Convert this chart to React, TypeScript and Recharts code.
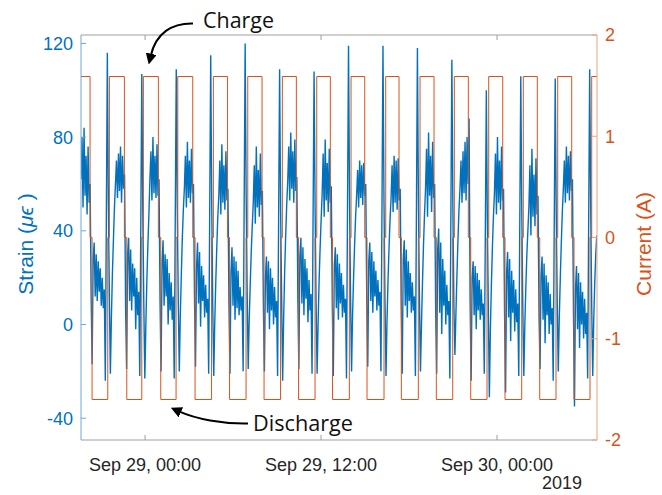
import React from 'react';
import { LineChart, Line, XAxis, YAxis } from 'recharts';

// time is in hours from Sep 29 2019, 00:00
const strainStart = -4.369;
const strainStep = 0.0691;

// strain (microstrain), one value per sample, one row per charge/discharge cycle
const strain: number[] = [
    62, 80, 50, 84, 55, 72, 47, 76, 52, 60, 12, -17, 28, 35, 12, 30, 10, 27, 14, 24, 8, 20, 7, 15, -24, 45, 116, 52,
    12, -21, 3, 22, 36, 50, 60, 70, 54, 73, 57, 76, 52, 72, 58, 64, 8, -19, 30, 37, 10, 32, 6, 26, 12, 24, -2, 20, 4, 14, -22, 42, 107, 48,
    8, -23, 0, 19, 34, 47, 62, 74, 53, 80, 56, 72, 54, 77, 55, 62, 10, -20, 26, 36, 8, 30, 12, 28, 0, 22, 6, 18, 2, 12, -23, 44, 109, 50,
    10, -20, 4, 21, 37, 49, 58, 72, 50, 78, 54, 70, 52, 75, 56, 60, 12, -18, 24, 35, 9, 31, -1, 25, 10, 21, 3, 17, 5, 11, -21, 47, 115, 52,
    9, -22, 1, 18, 33, 46, 55, 70, 47, 77, 52, 68, 49, 74, 53, 58, 9, -21, 22, 33, 8, 29, 2, 27, 7, 23, 4, 16, 6, 12, -20, 50, 120, 55,
    13, -19, 2, 17, 31, 42, 52, 68, 43, 76, 50, 66, 46, 73, 51, 57, 7, -20, 20, 29, 5, 27, -2, 24, 6, 20, 0, 16, 3, 10, -22, 43, 109, 49,
    11, -24, 3, 23, 38, 51, 61, 76, 53, 82, 58, 74, 52, 79, 57, 63, 11, -19, 29, 37, 9, 33, 4, 28, 11, 24, 1, 19, 6, 13, -21, 44, 108, 51,
    9, -21, 1, 19, 33, 45, 56, 73, 46, 79, 53, 69, 48, 75, 52, 59, 8, -22, 25, 33, 7, 30, 2, 26, 9, 22, 3, 17, 5, 11, -23, 49, 119, 54,
    12, -20, 4, 20, 34, 46, 55, 66, 50, 70, 54, 68, 51, 69, 55, 60, 10, -18, 27, 35, 10, 31, 5, 27, 12, 23, 6, 19, 8, 14, -20, 48, 119, 53,
    10, -22, 2, 19, 33, 45, 54, 68, 48, 72, 52, 70, 49, 71, 53, 58, 9, -21, 28, 36, 8, 32, 3, 27, 10, 22, 5, 18, 6, 12, -22, 47, 118, 52,
    11, -20, 0, 18, 34, 47, 58, 75, 46, 82, 55, 72, 48, 78, 54, 60, 6, -21, 32, 41, 5, 35, -4, 28, 8, 23, 0, 17, 4, 10, -23, 45, 113, 50,
    8, -13, 5, 21, 36, 49, 58, 70, 52, 74, 56, 78, 53, 80, 60, 88, 10, -24, 20, 27, 4, 25, -2, 22, 6, 19, 2, 15, 4, 9, -21, 38, 100, 45,
    6, -31, -2, 17, 33, 46, 56, 73, 47, 80, 52, 70, 49, 76, 53, 58, 5, -29, 22, 31, 3, 28, -7, 23, 5, 19, -3, 15, 1, 9, -22, 42, 106, 48,
    7, -22, 0, 16, 30, 40, 50, 68, 38, 75, 46, 64, 42, 71, 47, 55, 4, -19, 21, 29, 2, 26, -8, 21, 4, 18, -4, 13, 0, 7, -24, 41, 105, 47,
    9, -20, 3, 20, 35, 48, 58, 70, 52, 76, 56, 72, 53, 74, 57, 62, 5, -35, 15, 25, -2, 22, -10, 18, 0, 14, -6, 11, -4, 5, -23, 44, 109, 50,
    8, -22, 2, 18, 30, 38,
];

// current steps (hours)
const chargeStart = [-4.369, -2.434, -0.116, 2.23, 4.657, 7.002, 9.361, 11.707, 14.045, 16.411, 18.75, 21.089, 23.434, 25.793, 28.139, 30.457];
const chargeEnd = [-3.75, -1.411, 0.907, 3.252, 5.625, 7.977, 10.316, 12.634, 14.98, 17.318, 19.705, 22.043, 24.389, 26.748, 29.093];
const dischargeStart = [-3.614, -1.248, 1.07, 3.409, 5.761, 8.114, 10.466, 12.784, 15.136, 17.475, 19.861, 22.207, 24.545, 26.911, 29.25];
const dischargeEnd = [-2.543, -0.225, 2.114, 4.534, 6.886, 9.239, 11.591, 13.93, 16.295, 18.634, 20.98, 23.318, 25.684, 28.023, 30.341];
const chargeCurrent = 1.59;
const dischargeCurrent = -1.6;
const endTime = 30.818;

const timeTicks = [0, 12, 24];
const timeLabels = ['Sep 29, 00:00', 'Sep 29, 12:00', 'Sep 30, 00:00'];
const strainTicks = [-40, 0, 40, 80, 120];
const currentTicks = [-2, -1, 0, 1, 2];

const strainData = strain.map((v, i) => ({ t: strainStart + i * strainStep, strain: v }));

const currentData: { t: number; current: number }[] = [];
chargeStart.forEach((cs, k) => {
    currentData.push({ t: cs, current: chargeCurrent });
    if (k < chargeEnd.length) {
        currentData.push({ t: chargeEnd[k], current: 0 });
        currentData.push({ t: dischargeStart[k], current: dischargeCurrent });
        currentData.push({ t: dischargeEnd[k], current: 0 });
    }
});
currentData.push({ t: endTime, current: chargeCurrent });

const BLUE = '#0072BD';
const ORANGE = '#D95319';
const tickFont = { fontFamily: 'Liberation Sans, Arial, sans-serif', fontSize: 18 };

const formatTime = (v: number) => timeLabels[timeTicks.indexOf(v)] ?? '';

export default function App() {
    return (
        <div style={{ position: 'absolute', left: 0, top: 0, width: 662, height: 495, background: '#fff' }}>
            <LineChart width={662} height={495} margin={{ top: 0, right: 0, bottom: 0, left: 0 }}>
                <XAxis
                    xAxisId="bottom"
                    type="number"
                    dataKey="t"
                    domain={[strainStart, endTime]}
                    allowDataOverflow
                    ticks={timeTicks}
                    interval={0}
                    tickFormatter={formatTime}
                    height={55}
                    stroke="#a0a0a0"
                    tickSize={-5}
                    tickMargin={23}
                    tick={{ ...tickFont, fill: '#262626' }}
                />
                <XAxis
                    xAxisId="top"
                    orientation="top"
                    type="number"
                    dataKey="t"
                    domain={[strainStart, endTime]}
                    allowDataOverflow
                    ticks={timeTicks}
                    interval={0}
                    tickFormatter={() => ''}
                    height={35}
                    stroke="#a0a0a0"
                    tickSize={-5}
                />
                <YAxis
                    yAxisId="left"
                    type="number"
                    domain={[-49.3, 123.6]}
                    allowDataOverflow
                    ticks={strainTicks}
                    interval={0}
                    width={81}
                    stroke="#6fa8d6"
                    tickSize={-5}
                    tickMargin={13}
                    tick={{ ...tickFont, fill: BLUE }}
                />
                <YAxis
                    yAxisId="right"
                    orientation="right"
                    type="number"
                    domain={[-2, 2]}
                    allowDataOverflow
                    ticks={currentTicks}
                    interval={0}
                    width={65}
                    stroke="#eea07c"
                    tickSize={-5}
                    tickMargin={13}
                    tick={{ ...tickFont, fill: ORANGE }}
                />
                <Line
                    xAxisId="bottom"
                    yAxisId="left"
                    data={strainData}
                    dataKey="strain"
                    type="linear"
                    stroke={BLUE}
                    strokeWidth={1.4}
                    dot={false}
                    activeDot={false}
                    isAnimationActive={false}
                />
                <Line
                    xAxisId="bottom"
                    yAxisId="right"
                    data={currentData}
                    dataKey="current"
                    type="stepAfter"
                    stroke={ORANGE}
                    strokeWidth={1}
                    dot={false}
                    activeDot={false}
                    isAnimationActive={false}
                />
            </LineChart>
            <svg width={662} height={495} style={{ position: 'absolute', left: 0, top: 0, pointerEvents: 'none' }}>
                <defs>
                    <marker id="head" viewBox="0 0 10 10" refX="2" refY="5" markerWidth="11" markerHeight="11" markerUnits="userSpaceOnUse" orient="auto">
                        <path d="M0,0 L10,5 L0,10 z" fill="#000" />
                    </marker>
                </defs>
                <text
                    transform="translate(33,244) rotate(-90)"
                    textAnchor="middle"
                    fill={BLUE}
                    style={{ fontFamily: 'Liberation Sans, Arial, sans-serif', fontSize: 21 }}
                >
                    Strain (<tspan fontStyle="italic">μϵ</tspan> )
                </text>
                <text
                    transform="translate(651,244) rotate(-90)"
                    textAnchor="middle"
                    fill={ORANGE}
                    style={{ fontFamily: 'Liberation Sans, Arial, sans-serif', fontSize: 21 }}
                >
                    Current (A)
                </text>
                <text x={582} y={489} textAnchor="end" fill="#262626" style={tickFont}>2019</text>

                <text x={203} y={28} textLength={71} lengthAdjust="spacingAndGlyphs" fill="#111" style={{ fontFamily: 'Open Sans, sans-serif', fontSize: 22 }}>
                    Charge
                </text>
                <path d="M193,23.5 C172,23 156,33 150.7,55.9" fill="none" stroke="#000" strokeWidth={2} markerEnd="url(#head)" />

                <text x={253} y={431} textLength={100} lengthAdjust="spacingAndGlyphs" fill="#111" style={{ fontFamily: 'Open Sans, sans-serif', fontSize: 22 }}>
                    Discharge
                </text>
                <path d="M248,423.5 C222,424 196,419 178.9,411.4" fill="none" stroke="#000" strokeWidth={2} markerEnd="url(#head)" />
            </svg>
        </div>
    );
}
